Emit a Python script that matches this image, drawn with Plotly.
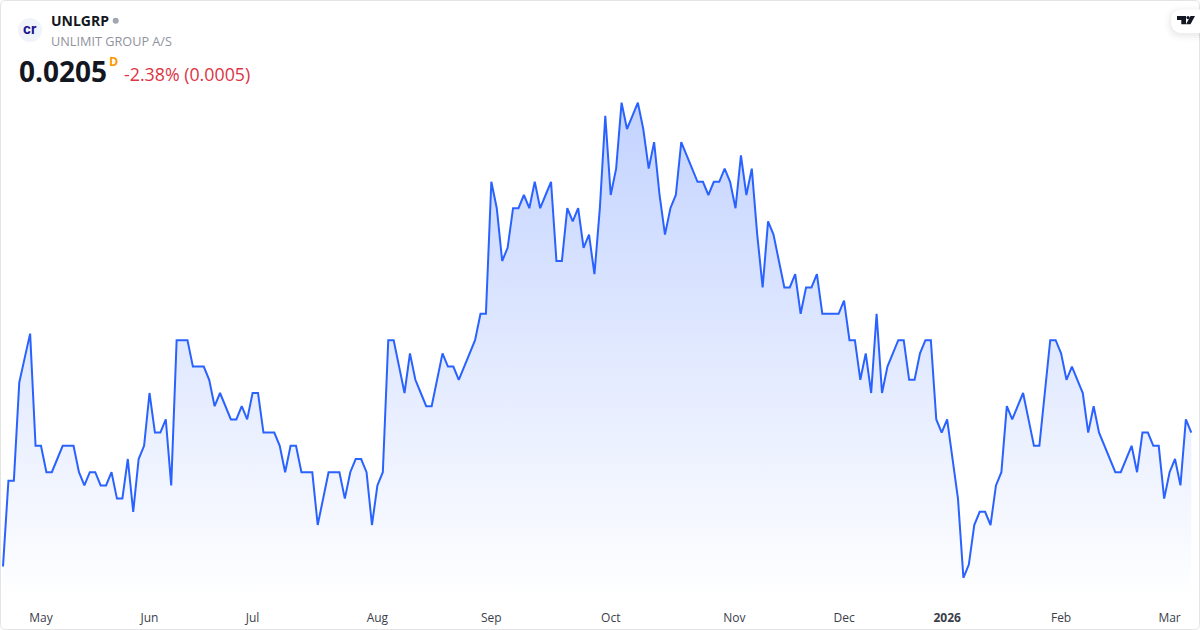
import plotly.graph_objects as go

# daily closes
prices = [
    0.01543, 0.01868, 0.01868, 0.0224, 0.02333, 0.02425, 0.0200, 0.0200, 0.0190, 0.0190,
    0.0195, 0.0200, 0.0200, 0.0200, 0.0190, 0.0185, 0.0190, 0.0190, 0.0185, 0.0185,
    0.0190, 0.0180, 0.0180, 0.0195, 0.0175, 0.0195, 0.0200, 0.0220, 0.0205, 0.0205,
    0.0210, 0.0185, 0.0240, 0.0240, 0.0240, 0.0230, 0.0230, 0.0230, 0.0225, 0.0215,
    0.0220, 0.0215, 0.0210, 0.0210, 0.0215, 0.0210, 0.0220, 0.0220, 0.0205, 0.0205,
    0.0205, 0.0200, 0.0190, 0.0200, 0.0200, 0.0190, 0.0190, 0.0190, 0.0170, 0.0180,
    0.0190, 0.0190, 0.0190, 0.0180, 0.0190, 0.0195, 0.0195, 0.0190, 0.0170, 0.0185,
    0.0190, 0.0240, 0.0240, 0.0230, 0.0220, 0.0235, 0.0225, 0.0220, 0.0215, 0.0215,
    0.0225, 0.0235, 0.0230, 0.0230, 0.0225, 0.0230, 0.0235, 0.0240, 0.0250, 0.0250,
    0.0300, 0.0290, 0.0270, 0.0275, 0.0290, 0.0290, 0.0295, 0.0290, 0.0300, 0.0290,
    0.0295, 0.0300, 0.0270, 0.0270, 0.0290, 0.0285, 0.0290, 0.0275, 0.0280, 0.0265,
    0.0290, 0.0325, 0.0295, 0.0305, 0.0330, 0.0320, 0.0325, 0.0330, 0.0320, 0.0305,
    0.0315, 0.0295, 0.0280, 0.0290, 0.0295, 0.0315, 0.0310, 0.0305, 0.0300, 0.0300,
    0.0295, 0.0300, 0.0300, 0.0305, 0.0300, 0.0290, 0.0310, 0.0295, 0.0305, 0.0280,
    0.0260, 0.0285, 0.0280, 0.0270, 0.0260, 0.0260, 0.0265, 0.0250, 0.0260, 0.0260,
    0.0265, 0.0250, 0.0250, 0.0250, 0.0250, 0.0255, 0.0240, 0.0240, 0.0225, 0.0235,
    0.0220, 0.0250, 0.0220, 0.0230, 0.0235, 0.0240, 0.0240, 0.0225, 0.0225, 0.0235,
    0.0240, 0.0240, 0.0210, 0.0205, 0.0210, 0.0195, 0.0180, 0.0150, 0.0155, 0.0170,
    0.0175, 0.0175, 0.0170, 0.0185, 0.0190, 0.0215, 0.0210, 0.0215, 0.0220, 0.0210,
    0.0200, 0.0200, 0.0220, 0.0240, 0.0240, 0.0235, 0.0225, 0.0230, 0.0225, 0.0220,
    0.0205, 0.0215, 0.0205, 0.0200, 0.0195, 0.0190, 0.0190, 0.0195, 0.0200, 0.0190,
    0.0205, 0.0205, 0.0200, 0.0200, 0.0180, 0.0190, 0.0195, 0.0185, 0.0210, 0.0205,
]
tick_index = [7, 27, 46, 69, 90, 112, 134.8, 155, 174, 195, 215]
tick_labels = ["May", "Jun", "Jul", "Aug", "Sep", "Oct", "Nov", "Dec", "<b>2026</b>", "Feb", "Mar"]

W, H = 1200, 630
PLOT_H = 600
FONT = "Open Sans"


def px(x):
    return x / W


def py(y):
    return (PLOT_H - y) / PLOT_H


def path_shape(d, **kw):
    return dict(type="path", path=d, xref="paper", yref="paper", **kw)


def pts(*xy):
    # pixel pairs to an svg path in paper units
    out = []
    for i, (x, y) in enumerate(xy):
        out.append(("M" if i == 0 else "L") + f"{px(x):.5f},{py(y):.5f}")
    return " ".join(out) + " Z"


def pill(left, top, bottom):
    r = (bottom - top) / 2
    return (f"M{px(W)},{py(top)} L{px(left + r)},{py(top)} "
            f"Q{px(left)},{py(top)} {px(left)},{py(top + r)} "
            f"Q{px(left)},{py(bottom)} {px(left + r)},{py(bottom)} "
            f"L{px(W)},{py(bottom)} Z")


def card(r=5):
    l, t, b, e = 0.5, 0.5, H - 0.5, W - 0.5
    return (f"M{px(l + r)},{py(t)} L{px(e - r)},{py(t)} Q{px(e)},{py(t)} {px(e)},{py(t + r)} "
            f"L{px(e)},{py(b - r)} Q{px(e)},{py(b)} {px(e - r)},{py(b)} "
            f"L{px(l + r)},{py(b)} Q{px(l)},{py(b)} {px(l)},{py(b - r)} "
            f"L{px(l)},{py(t + r)} Q{px(l)},{py(t)} {px(l + r)},{py(t)} Z")


# first point sits at 3 px, last at 1191 px
step = (1191.3 - 3) / (len(prices) - 1)
x_lo = -3 / step
x_hi = x_lo + W / step

# 0.0005 of price is 13.2 px, 0.0205 sits at y=432.6
per_px = 0.0005 / 13.2
y_top = 0.0205 + 432.6 * per_px
y_bottom = 0.0205 - (PLOT_H - 432.6) * per_px

fig = go.Figure()
fig.add_trace(go.Scatter(
    x=list(range(len(prices))),
    y=prices,
    mode="lines",
    line=dict(color="#2962FF", width=2),
    fill="tozeroy",
    fillgradient=dict(
        type="vertical",
        colorscale=[[0, "rgba(41,98,255,0)"], [1, "rgba(41,98,255,0.28)"]],
        start=y_bottom,
        stop=max(prices),
    ),
    hoverinfo="skip",
))

shapes = [
    path_shape(card(), line=dict(color="#E4E4E6", width=1), fillcolor="rgba(0,0,0,0)"),
    dict(type="circle", xref="paper", yref="paper", x0=px(18), x1=px(42), y0=py(18), y1=py(42),
         fillcolor="#F0F3FA", line=dict(width=0)),
    dict(type="circle", xref="paper", yref="paper", x0=px(112.7), x1=px(118.7), y0=py(17.8), y1=py(23.8),
         fillcolor="#A3A6AF", line=dict(width=0)),
]
# soft shadow under the badge
for grow, alpha in [(7, 0.008), (5, 0.012), (3, 0.018), (1, 0.025)]:
    shapes.append(path_shape(pill(1171 - grow, 9.5 - grow + 2, 33 + grow + 2),
                             fillcolor=f"rgba(0,0,0,{alpha})", line=dict(width=0)))
shapes.append(path_shape(pill(1171, 9.5, 33), fillcolor="#FFFFFF", line=dict(width=0)))
# TV mark
shapes.append(path_shape(pts((1177, 16), (1186, 16), (1186, 24.3), (1181.3, 24.3), (1181.3, 20), (1177, 20)),
                         fillcolor="#131722", line=dict(width=0)))
shapes.append(dict(type="circle", xref="paper", yref="paper", x0=px(1186.4), x1=px(1189.6), y0=py(16), y1=py(19.2),
                   fillcolor="#131722", line=dict(width=0)))
shapes.append(path_shape(pts((1190.5, 16), (1195, 16), (1190.5, 24.3), (1186, 24.3)),
                         fillcolor="#131722", line=dict(width=0)))


def label(text, x, y, size, color, anchor="left", family=FONT):
    return dict(text=text, x=px(x), y=py(y), xref="paper", yref="paper", xanchor=anchor, yanchor="middle",
                showarrow=False, align="left", font=dict(family=family, size=size, color=color),
                borderpad=0, borderwidth=0)


annotations = [
    label("<b>cr</b>", 30, 29, 13.5, "#1A1390", "center", "Inter"),
    label("<b>UNLGRP</b>", 51, 20.5, 14, "#131722"),
    label("UNLIMIT GROUP A/S", 51, 40.5, 12.7, "#8F929C"),
    label("<b>0.0205</b>", 19, 71, 28, "#131722"),
    label("<b>D</b>", 109, 61, 12.5, "#FF9800"),
    label("-2.38% (0.0005)", 124, 74.5, 17.8, "#DC3545"),
]

fig.update_layout(
    width=W,
    height=H,
    margin=dict(l=0, r=0, t=0, b=H - PLOT_H),
    paper_bgcolor="#FFFFFF",
    plot_bgcolor="#FFFFFF",
    showlegend=False,
    shapes=shapes,
    annotations=annotations,
    xaxis=dict(
        range=[x_lo, x_hi],
        tickmode="array",
        tickvals=tick_index,
        ticktext=tick_labels,
        tickangle=0,
        ticks="outside",
        ticklen=7,
        tickcolor="rgba(0,0,0,0)",
        tickfont=dict(family=FONT, size=12, color="#3A3E4A"),
        showgrid=False,
        zeroline=False,
        showline=False,
    ),
    yaxis=dict(range=[y_bottom, y_top], visible=False),
)

fig.write_html("out.html", config=dict(displayModeBar=False),
               post_script="document.body.style.margin='0';")
